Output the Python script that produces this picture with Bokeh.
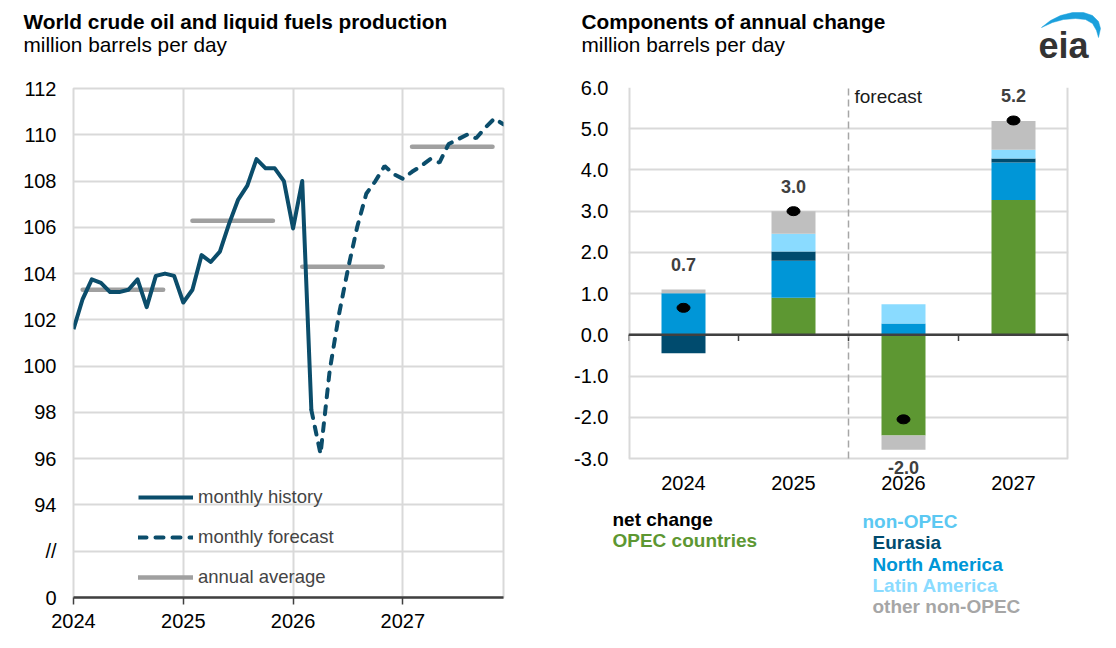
import numpy as np
from bokeh.plotting import figure
from bokeh.layouts import row, column
from bokeh.core.properties import value
from bokeh.models import (Range1d, FixedTicker, Label, LabelSet, Legend, LegendItem,
                          ColumnDataSource, Span)
from bokeh.embed import file_html
from bokeh.resources import INLINE

FONT = "Liberation Sans"
GRID = "#D9D9D9"
AXIS = "#404040"
LINE_BLUE = "#0B4D6B"

# ---- left panel: world production, million b/d, month 0 = Jan 2024
history_months = list(range(0, 27))
history = [101.6, 102.9, 103.75, 103.6, 103.2, 103.2, 103.3, 103.75, 102.55, 103.9, 104.0, 103.9,
           102.75, 103.3, 104.8, 104.5, 104.95, 106.15, 107.2, 107.8, 108.95, 108.55, 108.55, 108.0,
           105.95, 108.0, 98.1]
forecast_months = list(range(26, 48))
forecast = [98.1, 96.2, 99.8, 102.2, 104.2, 106.0, 107.45, 108.0, 108.65, 108.3, 108.1,
            108.4, 108.65, 108.95, 108.8, 109.6, 109.8, 110.0, 109.85, 110.3, 110.7, 110.45]
years = ["2024", "2025", "2026", "2027"]
annual_avg = [103.3, 106.28, 104.3, 109.48]
left_y_ticks = list(range(90, 113, 2))

# ---- right panel: components of annual change, million b/d
opec = [0.0, 0.90, -2.44, 3.27]
north_america = [1.01, 0.90, 0.275, 0.91]
eurasia = [-0.445, 0.22, 0.0, 0.10]
latin_america = [0.0, 0.43, 0.465, 0.21]
other_non_opec = [0.09, 0.55, -0.35, 0.70]
net_change = [0.655, 3.0, -2.05, 5.2]
right_y_ticks = list(range(-3, 7))
first_forecast_year = "2026"

stack_names = ["OPEC countries", "North America", "Eurasia", "Latin America", "other non-OPEC"]
stack_values = [opec, north_america, eurasia, latin_america, other_non_opec]
colors = {
    "OPEC countries": "#5D9732",
    "North America": "#0096D7",
    "Eurasia": "#004B6E",
    "Latin America": "#8ADBFF",
    "other non-OPEC": "#BFBFBF",
}
text_colors = dict(colors, **{"other non-OPEC": "#A6A6A6"})
left_legend = [("net change", "#000000"), ("OPEC countries", colors["OPEC countries"])]
non_opec_items = ["Eurasia", "North America", "Latin America", "other non-OPEC"]


def blank(width, height):
    """A figure with no axes whose frame is the whole canvas, y measured from the top."""
    p = figure(width=width, height=height, x_range=Range1d(0, width), y_range=Range1d(height, 0),
               min_border=0, x_axis_type=None, y_axis_type=None, frame_align=False,
               output_backend="svg", toolbar_location=None)
    p.grid.visible = False
    p.outline_line_color = None
    return p


def header(width, x, title, subtitle):
    p = blank(width, 66)
    p.text(x=[x, x], y=[21, 44], text=[title, subtitle], text_font=value(FONT),
           text_font_size=value("20.8px"), text_font_style=["bold", "normal"],
           text_color="#000000", text_baseline="alphabetic")
    return p


def style_axes(p):
    for ax in (p.xaxis[0], p.yaxis[0]):
        ax.major_label_text_font = FONT
        ax.major_label_text_font_size = "20px"
        ax.major_label_text_color = "#000000"
        ax.minor_tick_line_color = None
    p.yaxis.axis_line_color = None
    p.yaxis.major_tick_line_color = None
    p.yaxis.major_tick_out = 0
    p.outline_line_color = GRID
    p.outline_line_width = 2
    p.xgrid.grid_line_color = GRID
    p.ygrid.grid_line_color = GRID
    p.xgrid.grid_line_width = 2
    p.ygrid.grid_line_width = 2


# ================= left chart
left_head = header(540, 23, "World crude oil and liquid fuels production",
                   "million barrels per day")

left = figure(frame_width=430, frame_height=509, min_border_left=73, min_border_right=37,
              min_border_top=22, min_border_bottom=43, frame_align=False,
              x_range=Range1d(0, forecast_months[-1]),
              y_range=Range1d(left_y_ticks[0], left_y_ticks[-1]),
              output_backend="svg", toolbar_location=None)
style_axes(left)
year_starts = [12 * i for i in range(len(years))]
left.xaxis.ticker = FixedTicker(ticks=year_starts)
left.xaxis.major_label_overrides = {s: y for s, y in zip(year_starts, years)}
left.xgrid.ticker = FixedTicker(ticks=year_starts)
left.xaxis.axis_line_color = AXIS
left.xaxis.axis_line_width = 2.5
left.xaxis.major_tick_line_color = AXIS
left.xaxis.major_tick_line_width = 1.5
left.xaxis.major_tick_in = 0
left.xaxis.major_tick_out = 7
left.xaxis.major_label_standoff = 9
left.yaxis.ticker = FixedTicker(ticks=left_y_ticks)
# broken axis: bottom tick stands for zero, the next one carries the break mark
left.yaxis.major_label_overrides = {left_y_ticks[0]: "0", left_y_ticks[1]: "//"}
left.yaxis.major_label_standoff = 17

starts = np.array(year_starts, dtype=float)
avg_r = left.segment(x0=starts + 1.0, x1=starts + 9.8, y0=annual_avg, y1=annual_avg,
                     line_color="#A0A0A0", line_width=4.5, line_cap="round")
fc_r = left.line(forecast_months, forecast, line_color=LINE_BLUE, line_width=4,
                 line_dash="8 9", line_cap="round")
hist_r = left.line(history_months, history, line_color=LINE_BLUE, line_width=4,
                   line_join="round")

legend = Legend(items=[LegendItem(label="monthly history", renderers=[hist_r]),
                       LegendItem(label="monthly forecast", renderers=[fc_r]),
                       LegendItem(label="annual average", renderers=[avg_r])],
                location=(65, 9), padding=0, margin=0, spacing=18,
                glyph_width=55, glyph_height=20, label_height=20, label_standoff=5,
                label_text_font=FONT, label_text_font_size="18.5px",
                border_line_color=None, background_fill_alpha=0)
left.add_layout(legend)

# ================= right chart
right_head = header(570, 41, "Components of annual change", "million barrels per day")
# eia logo
swoosh_x = [501, 510, 520, 532, 543, 552, 558, 560, 558, 556, 552, 545, 535, 523, 512]
swoosh_y = [27, 20, 15, 12, 12, 15, 21, 28, 37, 30, 23, 19, 18, 19, 22]
right_head.patch(swoosh_x, swoosh_y, fill_color="#1BA0DC", line_color="#1BA0DC", line_width=0.5)
right_head.text(x=[498], y=[45], text=["eia"], text_font=value(FONT),
                text_font_size=value("36px"), text_font_style="bold", text_color="#333333",
                text_baseline="alphabetic")

px_per_unit = 371 / (right_y_ticks[-1] - right_y_ticks[0])
y_bottom = right_y_ticks[0] - 17 / px_per_unit  # room for the net label under the 2026 bar
right = figure(frame_width=440, frame_height=388, min_border_left=88, min_border_right=42,
               min_border_top=21, min_border_bottom=22, frame_align=False,
               x_range=Range1d(0, len(years)), y_range=Range1d(y_bottom, right_y_ticks[-1]),
               output_backend="svg", toolbar_location=None)
style_axes(right)
right.outline_line_color = None
centers = np.arange(len(years)) + 0.5
right.xaxis.ticker = FixedTicker(ticks=list(centers))
right.xaxis.major_label_overrides = {c: y for c, y in zip(centers, years)}
right.xaxis.axis_line_color = None
right.xaxis.major_tick_line_color = None
right.xaxis.major_tick_out = 0
right.xaxis.major_label_standoff = 0
right.xgrid.grid_line_color = None
right.yaxis.ticker = FixedTicker(ticks=right_y_ticks)
right.yaxis.major_label_overrides = {v: f"{v:.1f}" for v in right_y_ticks}
right.yaxis.major_label_standoff = 20

# plot-area borders (left/right) stopping at the lowest gridline
edges = np.array([0, len(years)])
right.segment(x0=edges, x1=edges, y0=right_y_ticks[0], y1=right_y_ticks[-1],
              line_color=GRID, line_width=4)

pos_base = np.zeros(len(years))
neg_base = np.zeros(len(years))
for name, vals in zip(stack_names, stack_values):
    v = np.array(vals)
    bottom = np.where(v >= 0, pos_base, neg_base)
    top = bottom + v
    pos_base = np.where(v >= 0, top, pos_base)
    neg_base = np.where(v < 0, top, neg_base)
    right.vbar(x=centers, width=0.4, bottom=bottom, top=top,
               fill_color=colors[name], line_color=None)

# zero line with category ticks
right.add_layout(Span(location=0, dimension="width", line_color=AXIS, line_width=2.5))
bounds = np.arange(len(years) + 1)
right.segment(x0=bounds, x1=bounds, y0=0, y1=-0.15, line_color=AXIS, line_width=1.5)

# forecast divider
fx = years.index(first_forecast_year)
right.segment(x0=[fx], x1=[fx], y0=[right_y_ticks[0]], y1=[right_y_ticks[-1]],
              line_color="#A6A6A6", line_dash="7 4", line_width=1.5)
right.add_layout(Label(x=fx, y=right_y_ticks[-1], x_offset=6, y_offset=2, text="forecast",
                       text_baseline="top", text_font=FONT, text_font_size="19px",
                       text_color="#1A1A1A"))

net = np.array(net_change)
right.ellipse(x=centers, y=net, width=13, height=9, width_units="screen",
              height_units="screen", fill_color="black", line_color="black")
label_src = ColumnDataSource(dict(
    x=centers,
    y=np.where(net >= 0, pos_base, neg_base),
    off=np.where(net >= 0, 25, -18),
    txt=[f"{v:.1f}" for v in net_change],
))
right.add_layout(LabelSet(x="x", y="y", text="txt", y_offset="off", source=label_src,
                          text_align="center", text_baseline="middle",
                          text_font=value(FONT), text_font_size=value("18px"),
                          text_font_style="bold", text_color="#404040"))

# legend as coloured text under the chart
right_foot = blank(570, 143)
right_foot.text(x=[72] * len(left_legend), y=[22 + 21 * i for i in range(len(left_legend))],
                text=[t for t, _ in left_legend], text_color=[c for _, c in left_legend],
                text_font=value(FONT), text_font_size=value("19px"), text_font_style="bold",
                text_baseline="middle")
right_foot.text(x=[322], y=[24], text=["non-OPEC"], text_color="#5BC8F2",
                text_font=value(FONT), text_font_size=value("19px"), text_font_style="bold",
                text_baseline="middle")
right_foot.text(x=[332] * len(non_opec_items),
                y=[24 + 21.3 * (i + 1) for i in range(len(non_opec_items))],
                text=non_opec_items, text_color=[text_colors[n] for n in non_opec_items],
                text_font=value(FONT), text_font_size=value("19px"), text_font_style="bold",
                text_baseline="middle")

layout = row(column(left_head, left, spacing=0),
             column(right_head, right, right_foot, spacing=0), spacing=0)
open("out.html", "w").write(file_html(layout, INLINE))
